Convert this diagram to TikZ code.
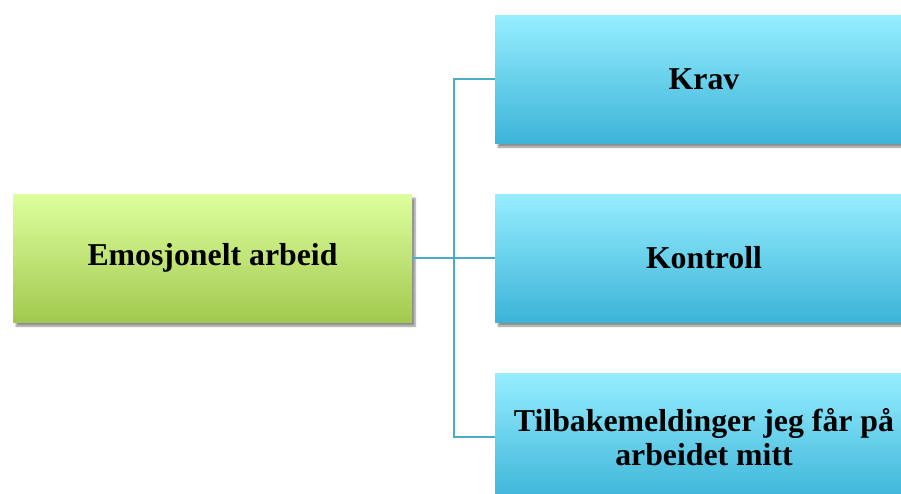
\documentclass[tikz,border=0pt]{standalone}
\usepackage{fontspec}
\setmainfont{Liberation Serif}
\usetikzlibrary{shadows.blur}
\definecolor{greentop}{HTML}{DEFF9E}
\definecolor{greenbot}{HTML}{A2C94E}
\definecolor{bluetop}{HTML}{96EEFF}
\definecolor{bluebot}{HTML}{3CB4D8}
\definecolor{linkblue}{HTML}{4BACC6}
\begin{document}
\begin{tikzpicture}[x=1pt,y=-1pt,
	topicbox/.style={rectangle,minimum width=399pt,minimum height=128pt,inner sep=0pt,
		top color=greentop,bottom color=greenbot,
		blur shadow={shadow xshift=3pt,shadow yshift=-4pt,shadow blur steps=6,shadow opacity=45}},
	factorbox/.style={rectangle,minimum width=418pt,minimum height=128pt,inner sep=0pt,
		top color=bluetop,bottom color=bluebot,align=center,
		blur shadow={shadow xshift=3pt,shadow yshift=-4pt,shadow blur steps=6,shadow opacity=45}},
	link/.style={draw=linkblue,line width=2pt},
	font=\fontsize{31.8}{34}\selectfont\bfseries]
	\useasboundingbox (0,0) rectangle (901,493);
	\clip (0,0) rectangle (901,493);
	\node (emo) at (212.5,258) [topicbox] {Emosjonelt arbeid};
	\node (krav) at (704,79) [factorbox] {Krav};
	\node (kontroll) at (704,258) [factorbox] {Kontroll};
	\node (tilbake) at (704,437) [factorbox] {Tilbakemeldinger jeg får på\\arbeidet mitt};
	\coordinate (split) at (454,258);
	\draw [link] (emo.east) -- (split);
	\draw [link] (split) |- (krav.west);
	\draw [link] (split) -- (kontroll.west);
	\draw [link] (split) |- (tilbake.west);
\end{tikzpicture}
\end{document}
